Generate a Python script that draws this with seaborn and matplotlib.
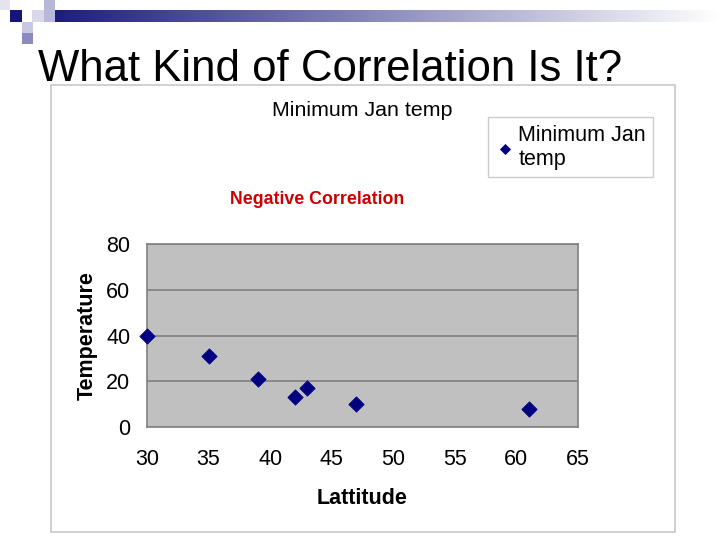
import numpy as np
import pandas as pd
import seaborn as sns
import matplotlib.pyplot as plt
from matplotlib.patches import Rectangle

# Data
latitude = [30, 35, 39, 42, 43, 47, 61]
min_jan_temp = [40, 31, 21, 13, 17, 10, 8]
x_ticks = [30, 35, 40, 45, 50, 55, 60, 65]
y_ticks = [0, 20, 40, 60, 80]

df = pd.DataFrame({"Lattitude": latitude, "Temperature": min_jan_temp})

sns.set_style("white")
plt.rcParams['font.family'] = ['Liberation Sans', 'DejaVu Sans']
plt.rcParams['text.color'] = 'black'
plt.rcParams['axes.labelcolor'] = 'black'
plt.rcParams['xtick.color'] = 'black'
plt.rcParams['ytick.color'] = 'black'

W, H = 720, 540
fig = plt.figure(figsize=(7.2, 5.4), dpi=100)
fig.patch.set_facecolor("white")

def px(x0, y0, x1, y1):
    # pixel box (top-left origin) -> figure fraction rect
    return [x0 / W, 1 - y1 / H, (x1 - x0) / W, (y1 - y0) / H]

# slide decoration: gradient bar + little squares
gax = fig.add_axes(px(44, 10, 720, 22))
grad = np.linspace(0, 1, 256)
c0 = np.array([0.10, 0.10, 0.48])
c1 = np.array([1.0, 1.0, 1.0])
img = c0[None, :] * (1 - grad[:, None]) + c1[None, :] * grad[:, None]
gax.imshow(img[None, :, :], aspect="auto", extent=[0, 1, 0, 1])
gax.axis("off")

squares = [
    ((0, 0, 10, 10), "#e4e4f0"),
    ((10, 10, 22, 22), "#14147a"),
    ((32, 10, 44, 22), "#d8d8ea"),
    ((44, 0, 55, 22), "#b8b8d8"),
    ((22, 22, 33, 33), "#c8c8e2"),
    ((22, 33, 33, 44), "#8a8ac0"),
]
for (x0, y0, x1, y1), col in squares:
    r = px(x0, y0, x1, y1)
    fig.add_artist(Rectangle((r[0], r[1]), r[2], r[3], transform=fig.transFigure,
                             facecolor=col, edgecolor="none"))

# slide title
fig.text(38 / W, 1 - 81 / H, "What Kind of Correlation Is It?", fontsize=31.5,
         ha="left", va="baseline", color="black")

# chart frame (behind the plot)
r = px(51, 85, 675, 532)
frame = Rectangle((r[0], r[1]), r[2], r[3], transform=fig.transFigure,
                  facecolor="none", edgecolor="#c8c8c8", linewidth=1.2, zorder=-1)
fig.add_artist(frame)

# plot area
ax = fig.add_axes(px(147, 244, 578, 427))
ax.set_facecolor("#c0c0c0")
sns.scatterplot(data=df, x="Lattitude", y="Temperature", marker="D", s=60,
                color="#000080", edgecolor="#000080", ax=ax, zorder=3,
                label="Minimum Jan\ntemp", clip_on=False)

ax.set_xlim(30, 65)
ax.set_ylim(0, 80)
ax.set_xticks(x_ticks)
ax.set_yticks(y_ticks)
ax.yaxis.grid(True, color="#808080", linewidth=1.2)
ax.set_axisbelow(True)
for s in ax.spines.values():
    s.set_color("#808080")
    s.set_linewidth(1.2)
ax.tick_params(axis="both", direction="out", length=4, width=1, color="#808080",
               labelsize=15.5, labelcolor="black")
ax.tick_params(axis="x", pad=12)
ax.tick_params(axis="y", pad=8)
ax.set_xlabel("Lattitude", fontsize=15.5, fontweight="bold", labelpad=13)
ax.set_ylabel("Temperature", fontsize=15.5, fontweight="bold", labelpad=6)

# chart title and annotation
fig.text(362 / W, 1 - 111 / H, "Minimum Jan temp", fontsize=15.4, ha="center", va="center")
fig.text(317 / W, 1 - 200 / H, "Negative Correlation", fontsize=12.8, fontweight="bold",
         color="#cc0000", ha="center", va="center")

leg = ax.legend(loc="upper left", bbox_to_anchor=(488 / W, 1 - 117 / H),
                bbox_transform=fig.transFigure, fontsize=15.5, frameon=True,
                fancybox=False, markerscale=0.65, handletextpad=0.15,
                handlelength=0.9, borderpad=0.35, labelspacing=0.35,
                borderaxespad=0)
leg.get_frame().set_edgecolor("#c0c0c0")
leg.get_frame().set_linewidth(1.0)

fig.savefig("out.png", dpi=100)
